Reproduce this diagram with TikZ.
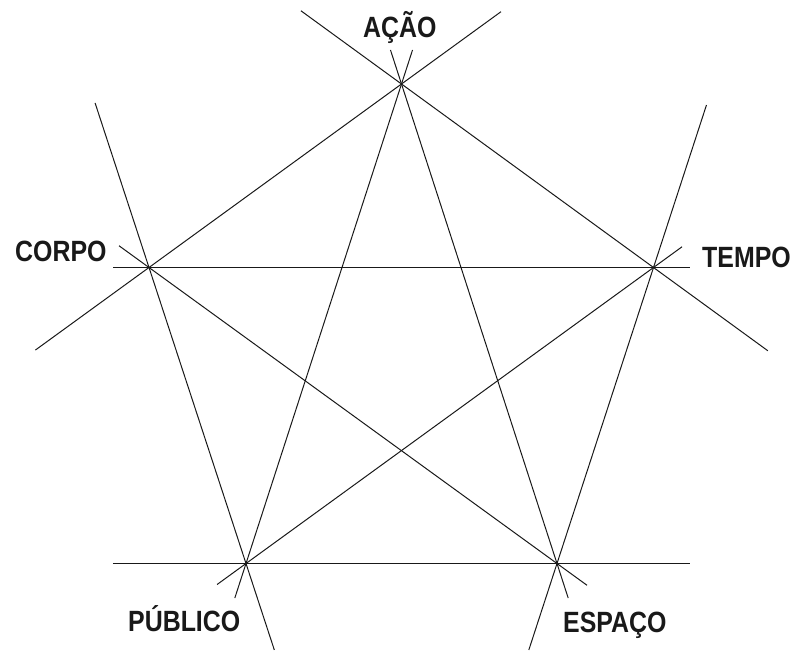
\documentclass[tikz,border=0pt]{standalone}
\usepackage{fontspec}
\newfontfamily\labfont{Liberation Sans}[FakeStretch=0.85]
\usetikzlibrary{calc}
\begin{document}
\begin{tikzpicture}[x=1pt,y=-1pt,
  ln/.style={line width=1pt,draw=black!90},
  lab/.style={anchor=base west,inner sep=0pt,text=black!90,font=\labfont\bfseries\fontsize{29.3}{30}\selectfont}]
\useasboundingbox (0,0) rectangle (795,651);
\coordinate (A) at (401.5,84);
\coordinate (C) at (149,267.5);
\coordinate (T) at (653.5,267.5);
\coordinate (P) at (246,563.5);
\coordinate (E) at (557,563.5);
% lines
\draw[ln] ($(C)!-0.071!(T)$) -- ($(T)!-0.072!(C)$);
\draw[ln] ($(P)!-0.428!(E)$) -- ($(E)!-0.428!(P)$);
\draw[ln] ($(C)!-0.45!(A)$) -- ($(A)!-0.394!(C)$);
\draw[ln] ($(A)!-0.399!(T)$) -- ($(T)!-0.454!(A)$);
\draw[ln] ($(A)!-0.071!(P)$) -- ($(P)!-0.072!(A)$);
\draw[ln] ($(A)!-0.071!(E)$) -- ($(E)!-0.072!(A)$);
\draw[ln] ($(C)!-0.0735!(E)$) -- ($(E)!-0.0735!(C)$);
\draw[ln] ($(T)!-0.07!(P)$) -- ($(P)!-0.071!(T)$);
\draw[ln] ($(C)!-0.556!(P)$) -- ($(P)!-0.292!(C)$);
\draw[ln] ($(T)!-0.549!(E)$) -- ($(E)!-0.292!(T)$);
% labels
\node[lab] (la) at (363,37) {AÇÃO};
\node[lab] (lc) at (15,261) {CORPO};
\node[lab] (lt) at (702,267) {TEMPO};
\node[lab] (lp) at (128,631) {PÚBLICO};
\node[lab] (le) at (563,632) {ESPAÇO};
\end{tikzpicture}
\end{document}
